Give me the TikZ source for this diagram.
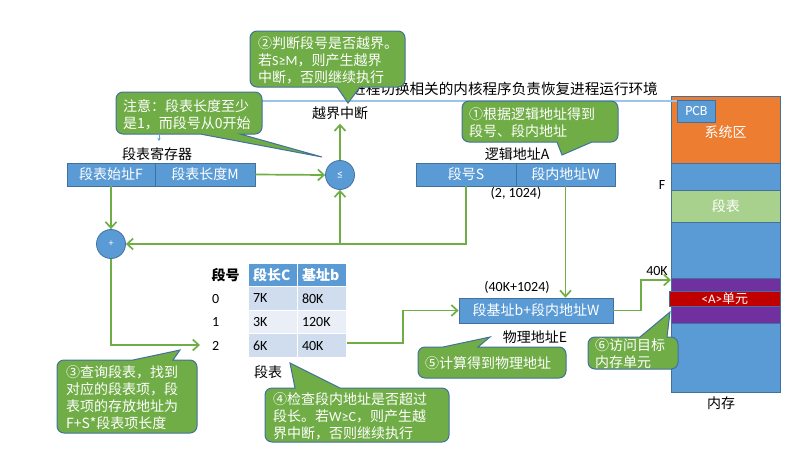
\documentclass[tikz,border=0pt]{standalone}
\usepackage{fontspec}
\setmainfont{Carlito}
\newfontfamily\cjk{Noto Sans CJK SC}
\newfontfamily\lat{Carlito}
\usetikzlibrary{arrows.meta,calc}
\definecolor{bfill}{HTML}{5B9BD5}
\definecolor{bline}{HTML}{41719C}
\definecolor{gline}{HTML}{70AD47}
\definecolor{cfill}{HTML}{70AD47}
\definecolor{orng}{HTML}{ED7D31}
\definecolor{lgrn}{HTML}{A9D18E}
\definecolor{purp}{HTML}{7030A0}
\definecolor{redc}{HTML}{C00000}
\definecolor{tdark}{HTML}{CFDDEE}
\definecolor{tlight}{HTML}{E9EEF7}
\definecolor{tline}{HTML}{9DC3E6}
\newcommand\calB[8]{%
 \draw[callout] (#1,{(#2+#4)/2}) [rounded corners=7pt] -- (#1,#2) -- (#3,#2) -- (#3,#4) [sharp corners] -- (#6,#4) -- (#7,#8) -- (#5,#4) [rounded corners=7pt] -- (#1,#4) -- cycle;}
\newcommand\calT[8]{%
 \draw[callout] (#1,{(#2+#4)/2}) [rounded corners=7pt] -- (#1,#2) [sharp corners] -- (#5,#2) -- (#7,#8) -- (#6,#2) [rounded corners=7pt] -- (#3,#2) -- (#3,#4) -- (#1,#4) -- cycle;}
\begin{document}
\begin{tikzpicture}[x=1pt,y=-1pt,
  zh/.style={font=\fontsize{14}{17}\selectfont\cjk},
  la/.style={font=\fontsize{14}{17}\selectfont},
  bbox/.style={draw=bline, fill=bfill, line width=0.8pt, text=white, inner sep=0pt, zh},
  conn/.style={draw=gline, line width=1.7pt, -{Straight Barb[length=6pt,width=11pt]}},
  callout/.style={draw=bline, fill=cfill, line width=1pt},
  ctext/.style={zh, text=white, align=left, inner sep=0pt, anchor=west},
  lbl/.style={zh, inner sep=0pt},
  cell/.style={minimum width=49pt, minimum height=23.5pt, inner xsep=5pt, inner ysep=0pt, text width=39pt, align=left, draw=white, line width=1pt},
  mem/.style={minimum width=109pt, anchor=north west, inner sep=0pt, line width=0.8pt},
]
\useasboundingbox (0,0) rectangle (805,453);
% top text and line
\node[lbl, anchor=east, font=\fontsize{14.6}{17}\selectfont\cjk] (top) at (658,89) {进程切换相关的内核程序负责恢复进程运行环境};
\coordinate (tl) at (200,101);
% memory
\node[mem, draw=bline, fill=bfill, minimum height=296pt] (memall) at (671,96) {};
\node[mem, draw=bline, fill=orng, minimum height=67pt] (sys) at (671,96) {};
\node[lbl, text=white] (systxt) at (725.5,132) {系统区};
\node[mem, draw=bline, fill=lgrn, minimum height=32pt, text=white, zh] (segtab) at (671,190) {段表};
\node[mem, draw=bline, fill=purp, minimum height=45pt] (purp) at (671,278) {};
\node[mem, draw=bline, fill=redc, minimum width=111pt, minimum height=15pt, text=white, font=\fontsize{13}{15}\selectfont\cjk] (unitA) at (669,291) {{\lat <A>}单元};
\node[bbox, anchor=north west, minimum width=38pt, minimum height=22pt, font=\fontsize{14}{15}\selectfont] (pcb) at (677,100) {PCB};
\draw[tline, line width=1.5pt] (tl) -- (tl -| pcb.west);
\node[la, inner sep=0pt] (Flbl) at (662,185) {F};
\node[la, inner sep=0pt] (k40lbl) at (657,271) {40K};
\node[lbl] (memlbl) at (721,403) {内存};
% register
\node[lbl] (reglbl) at (157,154) {段表寄存器};
\node[bbox, minimum width=88pt, minimum height=23pt] (reg1) at (111,174.5) {段表始址F};
\node[bbox, minimum width=100pt, minimum height=23pt] (reg2) at (205,174.5) {段表长度M};
\node[bbox, circle, minimum size=29pt, font=\fontsize{12}{12}\selectfont\lat] (le) at (340,175) {≤};
\node[lbl, inner ysep=4pt] (ov) at (340,113) {越界中断};
\node[bbox, circle, minimum size=29pt, font=\fontsize{10}{12}\selectfont] (plus) at (111,244) {+};
% logical address
\node[lbl] (lalbl) at (517,154) {逻辑地址A};
\node[bbox, minimum width=100pt, minimum height=23pt] (lS) at (466,174.5) {段号S};
\node[bbox, minimum width=99pt, minimum height=23pt] (lW) at (565.5,174.5) {段内地址W};
\node[la, inner sep=0pt] (lav) at (516,193) {(2, 1024)};
% table
\node[zh, inner sep=0pt, font=\fontsize{14}{17}\selectfont\cjk\bfseries] (hno) at (225.5,275) {段号};
\node[cell, fill=bfill, text=white, font=\fontsize{14}{17}\selectfont\cjk\bfseries] (h1) at (272.5,275) {段长C};
\node[cell, fill=bfill, text=white, font=\fontsize{14}{17}\selectfont\cjk\bfseries] (h2) at (321.5,275) {基址b};
\node[cell, fill=tdark, la] (c01) at (272.5,298.5) {7K};
\node[cell, fill=tdark, la] (c02) at (321.5,298.5) {80K};
\node[cell, fill=tlight, la] (c11) at (272.5,322) {3K};
\node[cell, fill=tlight, la] (c12) at (321.5,322) {120K};
\node[cell, fill=tdark, la] (c21) at (272.5,345.5) {6K};
\node[cell, fill=tdark, la] (c22) at (321.5,345.5) {40K};
\node[la, anchor=west, inner sep=0pt] (r0) at (212,298.5) {0};
\node[la, anchor=west, inner sep=0pt] (r1) at (212,322) {1};
\node[la, anchor=west, inner sep=0pt] (r2) at (212,345.5) {2};
\node[lbl] (tablbl) at (268,372) {段表};
% physical address
\node[la, inner sep=0pt] (pav) at (517,287) {(40K+1024)};
\node[bbox, minimum width=154pt, minimum height=25pt] (pE) at (536,310.5) {段基址b+段内地址W};
\node[lbl] (pelbl) at (535,337) {物理地址E};
% connectors
\draw[conn] (reg2.east) -- (le.west);
\draw[conn] (le.north) -- (ov.south);
\draw[conn] (reg1.south) -- (plus.north);
\draw[conn] (lS.south) |- (plus.east);
\coordinate (j) at (le |- plus.east);
\draw[conn] (j) -- (le.south);
\coordinate (a2) at (200,345);
\draw[conn] (plus.south) |- (a2);
\coordinate (t2) at (347,343);
\draw[conn] (t2) -- (403,343) |- (pE.west);
\draw[conn] (lW.south) -- (lW.south |- pE.north);
\coordinate (k40) at (671,280);
\draw[conn] (pE.east) -- (641,310.5) |- (k40);
% small blue tick under note
\coordinate (bt1) at (159,135);
\coordinate (bt2) at (159,141);
\draw[bfill, line width=0.6pt, -{Stealth[length=3pt,width=3pt]}] (bt1) -- (bt2);
% callouts
\calB{250}{31}{405}{87}{337}{360}{348}{103}
\node[ctext] (c2) at (258,60.5) {②判断段号是否越界。\\若{\lat S≥M}，则产生越界\\中断，否则继续执行};
\calB{116}{92}{262}{134}{200}{240}{322}{157}
\node[ctext] (cn) at (123,114.5) {注意：段表长度至少\\是1，而段号从0开始};
\calB{462}{101}{618}{142}{557}{592}{562}{155}
\node[ctext] (c1) at (469,123) {①根据逻辑地址得到\\段号、段内地址};
\calT{57}{360}{197}{433}{133}{173}{180}{350}
\node[ctext] (c3) at (66,398) {③查询段表，找到\\对应的段表项，段\\表项的存放地址为\\F+S*段表项长度};
\calT{265}{388}{449}{442}{295}{340}{290}{363}
\node[ctext] (c4) at (273,416) {④检查段内地址是否超过\\段长。若{\lat W≥C}，则产生越\\界中断，否则继续执行};
\calT{418}{347}{566}{378}{443}{478}{490}{337}
\node[ctext] (c5) at (425,363) {⑤计算得到物理地址};
\calT{588}{337}{678}{369}{640}{667}{670}{312}
\node[ctext] (c6) at (595,354) {⑥访问目标\\内存单元};
\end{tikzpicture}
\end{document}
